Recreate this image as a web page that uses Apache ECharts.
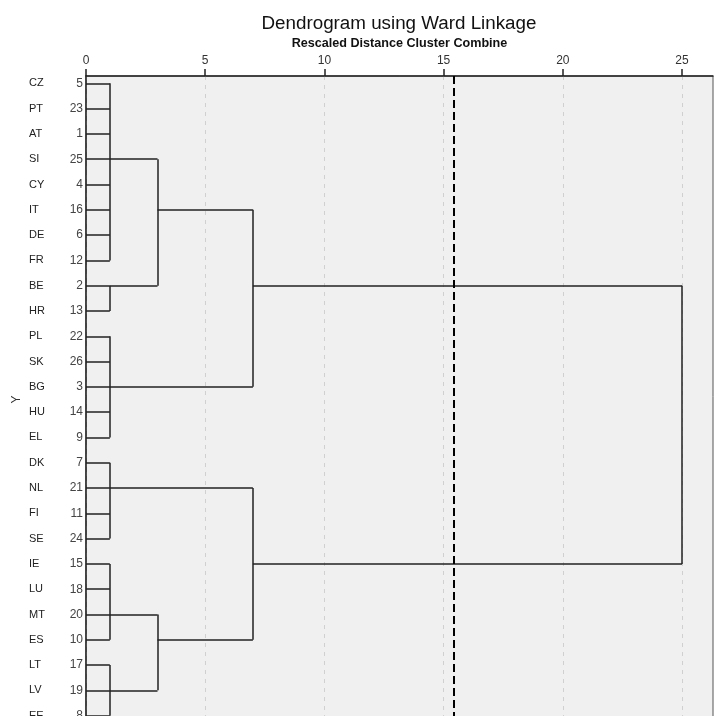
<!DOCTYPE html>
<html>
<head>
<meta charset="utf-8">
<title>Dendrogram using Ward Linkage</title>
<script src="https://cdn.jsdelivr.net/npm/echarts@6/dist/echarts.min.js"></script>
<style>
html,body{margin:0;padding:0;background:#fff;}
#main{width:714px;height:716px;}
</style>
</head>
<body>
<div id="main"></div>
<script>
// 行标签：国家与个案编号（自上而下）
var countries = ['CZ','PT','AT','SI','CY','IT','DE','FR','BE','HR','PL','SK','BG','HU','EL','DK','NL','FI','SE','IE','LU','MT','ES','LT','LV','EE'];
var caseIds = [5,23,1,25,4,16,6,12,2,13,22,26,3,14,9,7,21,11,24,15,18,20,10,17,19,8];

// 合并节点，编号从26开始；成员是叶子行号或前面的节点编号
var clusterMembers = [
    [0,1,2,3,4,5,6,7],   // 26
    [8,9],               // 27
    [26,27],             // 28
    [10,11,12,13,14],    // 29
    [28,29],             // 30
    [15,16,17,18],       // 31
    [19,20,21,22],       // 32
    [23,24,25],          // 33
    [32,33],             // 34
    [31,34],             // 35
    [30,35]              // 36 root
];
var clusterHeight = [1,1,3,1,7,1,1,1,3,7,25];
// 每个节点向右引出横线所在的行
var clusterRow = [3,8,5,12,8,16,21,24,22,19,14];
var xTicks = [0,5,10,15,20,25];
var cutLine = 15.43;

var FONT = 'Liberation Sans';
var myChart = echarts.init(document.getElementById('main'));

var nodeHeight = [], nodeRow = [], rowIdx = [];
for (var i = 0; i < countries.length; i++) {
    nodeHeight.push(0);
    nodeRow.push(i);
    rowIdx.push(i);
}
for (var c = 0; c < clusterMembers.length; c++) {
    nodeHeight.push(clusterHeight[c]);
    nodeRow.push(clusterRow[c]);
}

var segs = [];
for (var c = 0; c < clusterMembers.length; c++) {
    var h = clusterHeight[c];
    var rows = [];
    clusterMembers[c].forEach(function (m) {
        segs.push({coords: [[nodeHeight[m], nodeRow[m]], [h, nodeRow[m]]]});
        rows.push(nodeRow[m]);
    });
    segs.push({coords: [[h, Math.min.apply(null, rows)], [h, Math.max.apply(null, rows)]]});
}

var yMin = -0.29, yMax = countries.length - 1 + 0.29;

option = {
    animation: false,
    title: {
        text: 'Dendrogram using Ward Linkage',
        left: 394,
        top: 9,
        textAlign: 'center',
        textStyle: {fontFamily: FONT, fontSize: 18.8, fontWeight: 'normal', color: '#111'}
    },
    grid: {
        left: 86, top: 76, right: 1, height: 647,
        containLabel: false,
        outerBoundsMode: 'none',
        show: true,
        backgroundColor: '#f0f0f0',
        borderColor: '#555',
        borderWidth: 1
    },
    xAxis: {
        type: 'value',
        position: 'top',
        min: 0,
        max: 26.3,
        interval: 5,
        name: 'Rescaled Distance Cluster Combine',
        nameLocation: 'middle',
        nameGap: 26,
        nameTextStyle: {fontFamily: FONT, fontSize: 12.6, fontWeight: 'bold', color: '#111'},
        axisLine: {show: true, onZero: false, lineStyle: {color: '#222', width: 1.5}},
        axisTick: {show: true, length: 7, customValues: xTicks, lineStyle: {color: '#222', width: 1.5}},
        axisLabel: {customValues: xTicks, margin: 9, fontFamily: FONT, fontSize: 12, color: '#333'},
        splitLine: {show: true, lineStyle: {color: '#d0d0d0', type: [4, 5], width: 1}}
    },
    yAxis: {
        type: 'value',
        inverse: true,
        min: yMin,
        max: yMax,
        name: 'Y',
        nameLocation: 'middle',
        nameGap: 63,
        nameRotate: 90,
        nameMoveOverlap: false,
        nameTextStyle: {fontFamily: FONT, fontSize: 12, color: '#333'},
        axisLine: {show: true, onZero: false, lineStyle: {color: '#222', width: 1.5}},
        axisTick: {show: false},
        splitLine: {show: false},
        axisLabel: {
            customValues: rowIdx,
            margin: 3,
            formatter: function (v) {
                return '{n|' + countries[v] + '}{c|' + caseIds[v] + '}';
            },
            rich: {
                n: {width: 36, align: 'left', fontFamily: FONT, fontSize: 11, color: '#222'},
                c: {width: 18, align: 'right', fontFamily: FONT, fontSize: 12, color: '#444'}
            }
        }
    },
    series: [
        {
            type: 'lines',
            coordinateSystem: 'cartesian2d',
            silent: true,
            data: segs,
            lineStyle: {color: '#222', width: 1.5, opacity: 1}
        },
        {
            type: 'lines',
            coordinateSystem: 'cartesian2d',
            silent: true,
            data: [{coords: [[cutLine, yMin], [cutLine, yMax]]}],
            lineStyle: {color: '#000', width: 2, type: [8, 4], opacity: 1}
        }
    ]
};
myChart.setOption(option, true);
</script>
</body>
</html>
